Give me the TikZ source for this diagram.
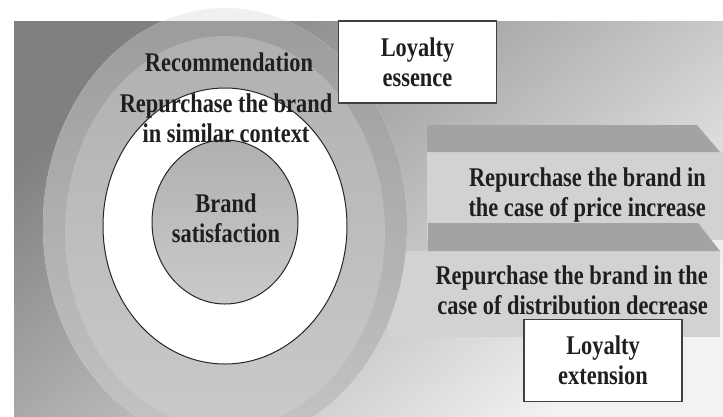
\documentclass[tikz,border=0pt]{standalone}
\usepackage{fontspec}
\setmainfont{Liberation Serif}
\newfontfamily\narrowserif[FakeStretch=0.83]{Liberation Serif}
\usetikzlibrary{positioning}

\definecolor{bgdark}{RGB}{128,128,128}
\definecolor{bgmid}{RGB}{200,200,200}
\definecolor{bglight}{RGB}{242,242,242}
\definecolor{rimtop}{RGB}{155,155,155}
\definecolor{rimbot}{RGB}{196,196,196}
\definecolor{disktop}{RGB}{176,176,176}
\definecolor{diskbot}{RGB}{202,202,202}
\definecolor{slabtop}{RGB}{163,163,163}
\definecolor{slabfront}{RGB}{210,210,210}

\begin{document}
\begin{tikzpicture}[
    x=1pt, y=-1pt,
    txt/.style={font=\narrowserif\bfseries\fontsize{27}{30}\selectfont, align=center, inner sep=0pt, text=black!88},
    tag/.style={txt, draw=black!75, fill=white, line width=1.1pt, minimum width=158pt, minimum height=82pt},
    ring/.style={draw=black!85, line width=1pt}
    ]
    \useasboundingbox (0,0) rectangle (723,416);

    % backdrop
    \shade[top color=bgdark, middle color=bgmid, bottom color=bglight, shading angle=40]
        (14,21) rectangle (723,416);

    % slabs on the right
    \fill[slabfront] (427,152) rectangle (723,240);
    \fill[slabtop] (427,125) -- (697,125) -- (720,152) -- (427,152) -- cycle;
    \fill[slabfront] (388,251) rectangle (720,337);
    \fill[slabtop] (428,223) -- (698,223) -- (720,251) -- (428,251) -- cycle;

    % outer disk, faint where it leaves the backdrop
    \fill[black!6] (225,226) ellipse [x radius=182, y radius=218];
    \begin{scope}
        \clip (14,21) rectangle (723,416);
        \shade[top color=rimtop, bottom color=rimbot] (225,226) ellipse [x radius=182, y radius=218];
        \shade[top color=disktop, bottom color=diskbot] (225,232) ellipse [x radius=160, y radius=196];
    \end{scope}

    % white ring and core
    \fill[white, ring] (225,226) ellipse [x radius=122, y radius=138];
    \shade[top color=disktop, bottom color=diskbot, ring] (225,222) ellipse [x radius=73, y radius=82];

    % texts
    \node[txt] (rec) at (229,62) {Recommendation};
    \node[txt] (sim) at (226,118) {Repurchase the brand\\in similar context};
    \node[txt] (sat) at (226,218) {Brand\\satisfaction};
    \node[txt, anchor=east, align=right] (price) at (706,195) {Repurchase the brand in\\the case of price increase};
    \node[txt, anchor=east, align=right] (dist) at (708,290) {Repurchase the brand in the\\case of distribution decrease};

    % boxes
    \node[tag] (ess) at (417.5,62) {Loyalty\\essence};
    \node[tag] (ext) at (603,360.5) {Loyalty\\extension};
\end{tikzpicture}
\end{document}
